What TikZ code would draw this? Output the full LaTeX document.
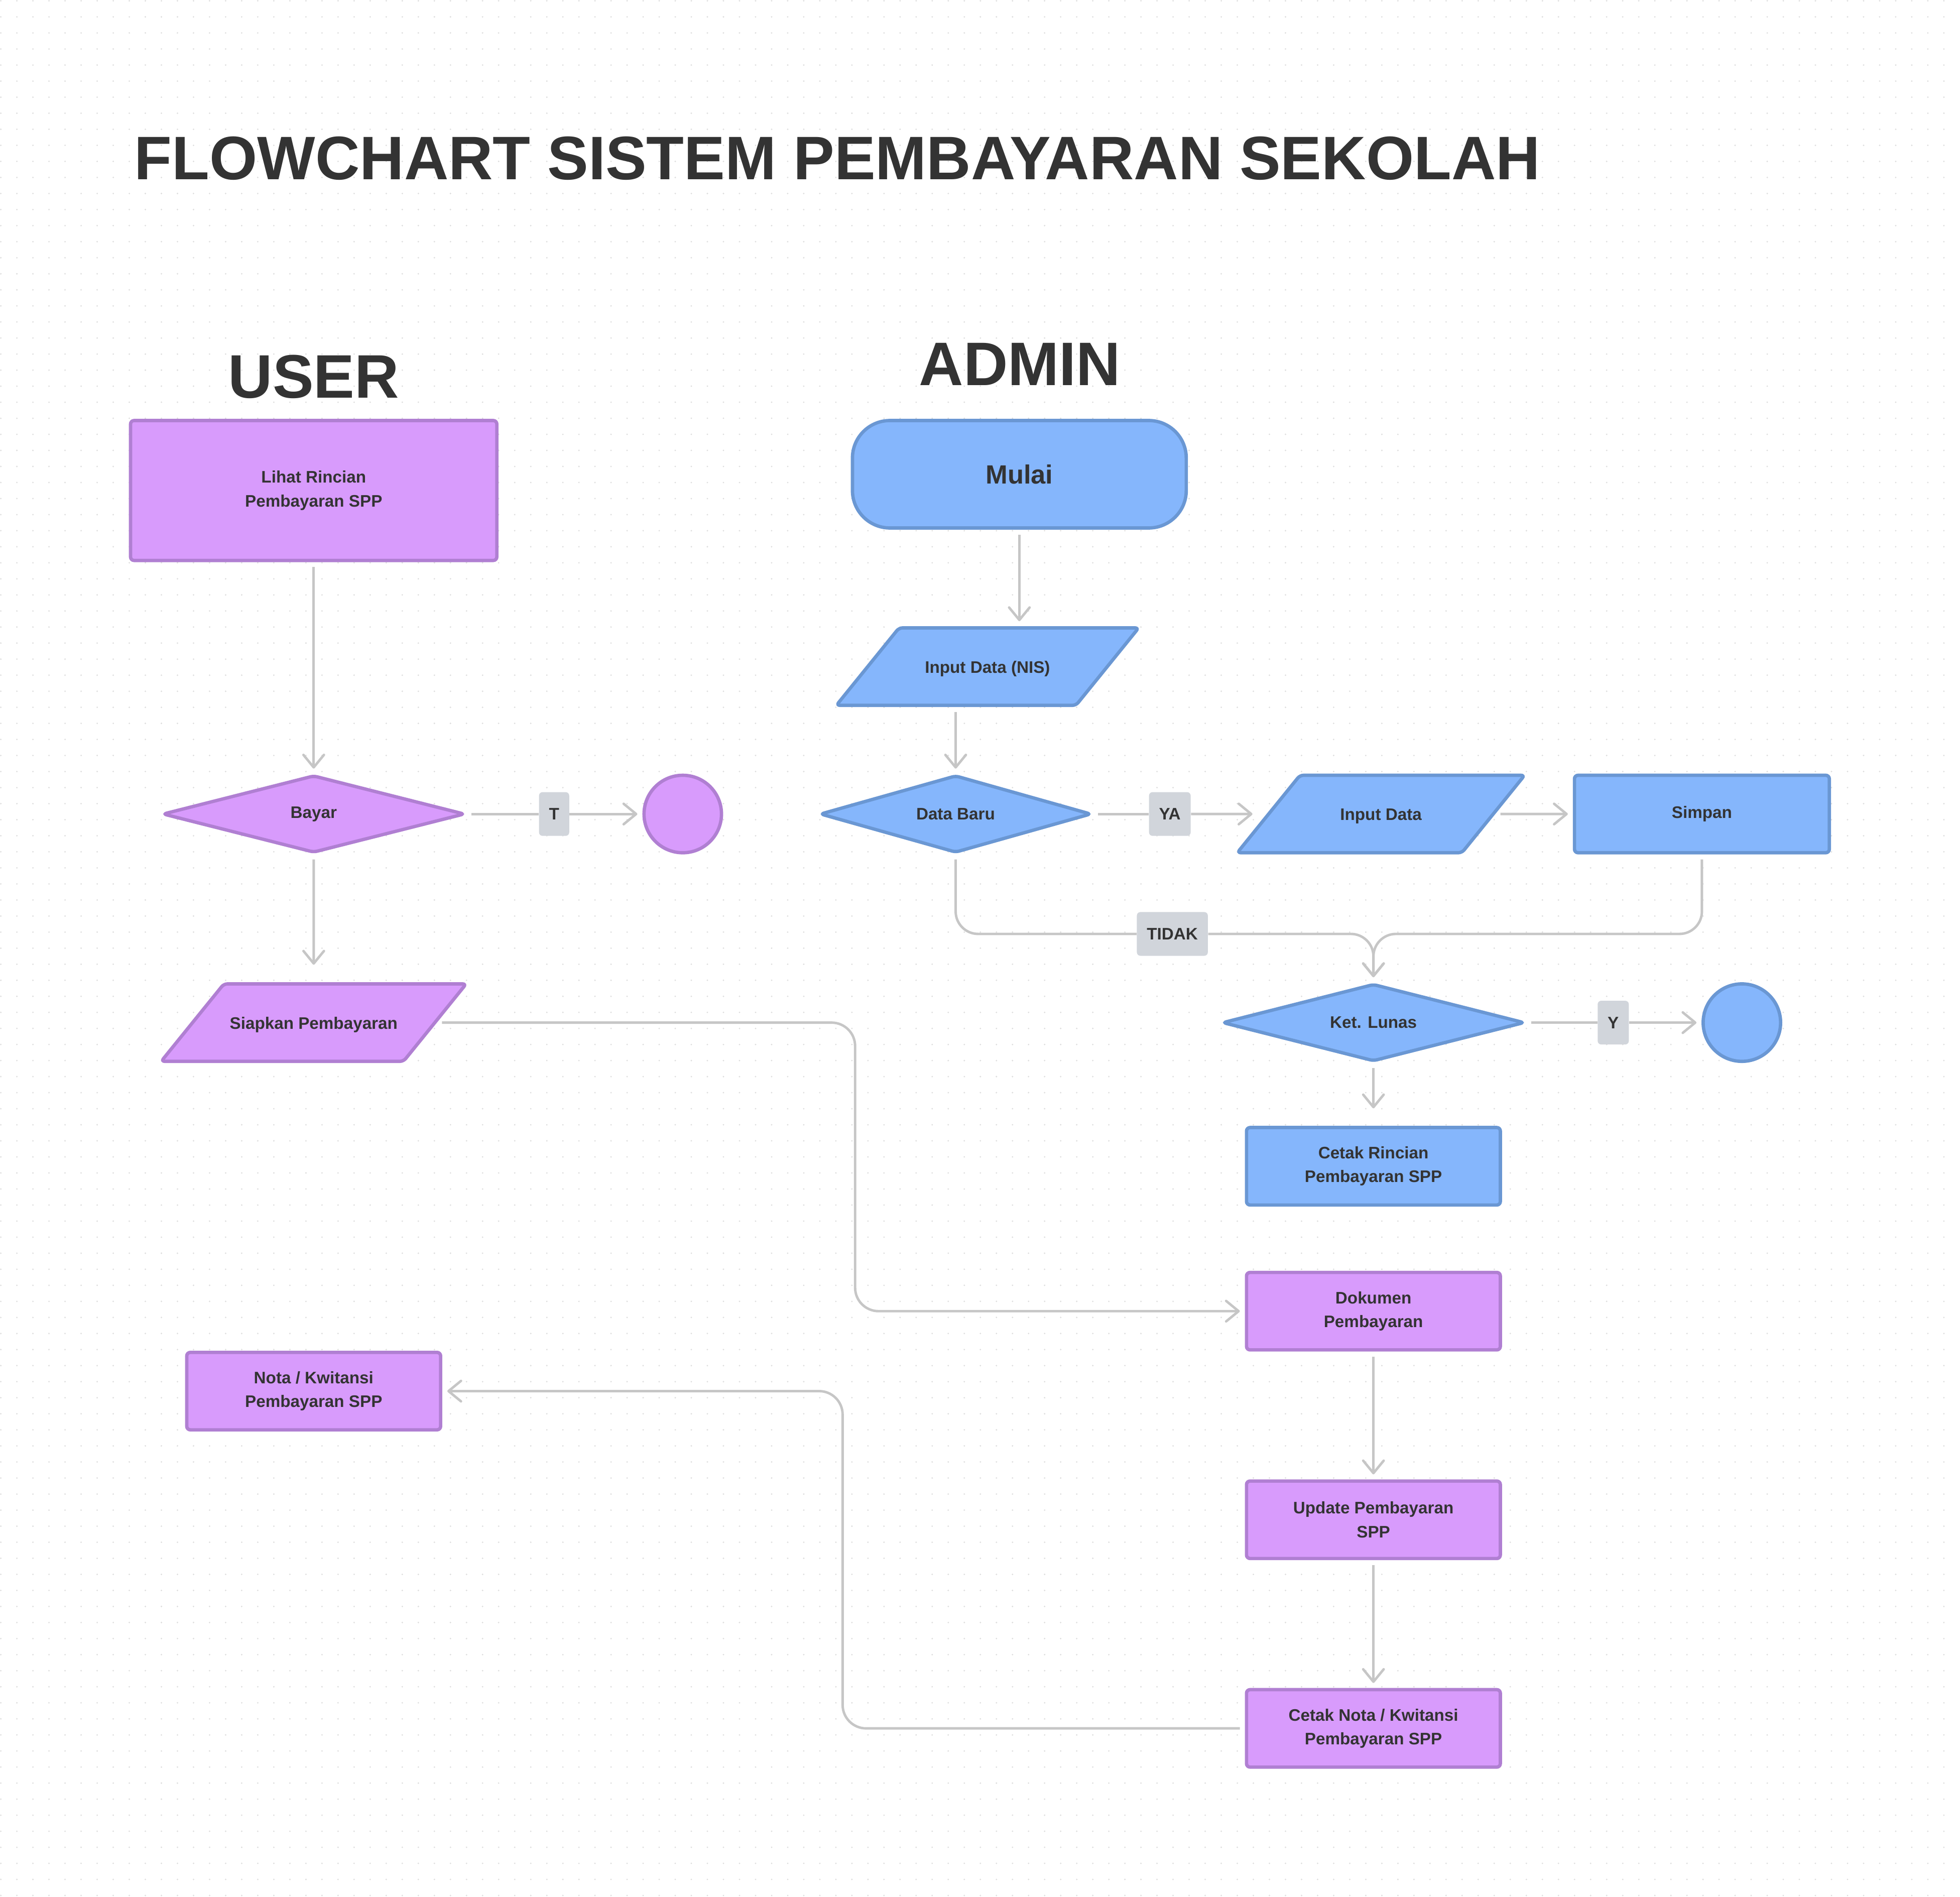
\documentclass[tikz,border=0pt]{standalone}
\usepackage{fontspec}
\setmainfont{Liberation Sans}
\usetikzlibrary{shapes.geometric,arrows.meta}

\definecolor{ungu}{HTML}{D89BFC}
\definecolor{unguline}{HTML}{B07FD2}
\definecolor{biru}{HTML}{85B6FC}
\definecolor{biruline}{HTML}{6A97D3}
\definecolor{garis}{HTML}{C6C6C6}
\definecolor{labelbg}{HTML}{D1D5DB}
\definecolor{teks}{HTML}{333333}
\definecolor{titik}{HTML}{DEDEDE}

\begin{document}
\begin{tikzpicture}
  [x=0.025cm, y=-0.025cm,
   every node/.style={text=teks, font=\fontsize{9.5}{13.5}\selectfont\bfseries},
   judul/.style={font=\fontsize{35}{40}\selectfont\bfseries},
   proses/.style={rectangle, draw, line width=1.9pt, rounded corners=2pt, align=center},
   keputusan/.style={diamond, draw, aspect=4, inner sep=0pt, line width=1.9pt,
     rounded corners=2pt, minimum height=1.55cm},
   io/.style={trapezium, draw, trapezium left angle=51, trapezium right angle=129,
     trapezium stretches body=true, line width=1.9pt, rounded corners=2pt,
     text height=0.45cm, text depth=0.2cm, inner ysep=0.45cm},
   akhir/.style={circle, draw, line width=1.9pt, minimum size=1.55cm},
   ket/.style={fill=labelbg, rounded corners=2pt, minimum height=0.875cm,
     inner xsep=0.2cm, inner ysep=0pt},
   user/.style={fill=ungu, draw=unguline},
   admin/.style={fill=biru, draw=biruline},
   conn/.style={draw=garis, line width=1.4pt, shorten <=0.1cm},
   arr/.style={conn, shorten >=0.1cm,
     -{Straight Barb[round, length=0.25cm, width=0.41cm]}},
   titikbaris/.style={titik, line width=0.033cm, line cap=round,
     dash pattern=on 0pt off 0.32135cm}]

  \fill[white] (0,0) rectangle (1568,1518);
  \foreach \r in {0,...,118}
    \draw[titikbaris] (0,\r*12.854) -- (1568,\r*12.854);
  \useasboundingbox (0,0) rectangle (1568,1518);

  \node[judul, anchor=base west] (judul) at (102,143) {FLOWCHART SISTEM PEMBAYARAN SEKOLAH};
  \node[judul, anchor=base] (huser) at (250.5,318) {USER};
  \node[judul, anchor=base] (hadmin) at (816,308) {ADMIN};

  % user
  \node[proses, user, minimum width=7.33cm, minimum height=2.8cm] (u1) at (250.5,392)
    {Lihat Rincian\\Pembayaran SPP};
  \node[keputusan, user, minimum width=6.05cm] (u2) at (250.5,651) {Bayar};
  \node[akhir, user] (u3) at (546,651) {};
  \node[io, user, minimum width=6.03cm] (u4) at (250.5,818) {Siapkan Pembayaran};
  \node[proses, user, minimum width=5.08cm, minimum height=1.55cm] (u5) at (250.5,1113)
    {Nota / Kwitansi\\Pembayaran SPP};

  % admin
  \node[proses, admin, rounded corners=0.75cm, minimum width=6.68cm, minimum height=2.15cm,
    font=\fontsize{15}{18}\selectfont\bfseries] (a1) at (815.5,379) {Mulai};
  \node[io, admin, minimum width=6.05cm] (a2) at (790,533) {Input Data (NIS)};
  \node[keputusan, admin, minimum width=5.43cm] (a3) at (764.5,651) {Data Baru};
  \node[io, admin, minimum width=5.75cm] (a4) at (1105,651) {Input Data};
  \node[proses, admin, minimum width=5.1cm, minimum height=1.55cm] (a5) at (1362,651) {Simpan};
  \node[keputusan, admin, minimum width=6.05cm] (a6) at (1099,818) {Ket. Lunas};
  \node[akhir, admin] (a7) at (1394,818) {};
  \node[proses, admin, minimum width=5.08cm, minimum height=1.55cm] (a8) at (1099,933)
    {Cetak Rincian\\Pembayaran SPP};
  \node[proses, user, minimum width=5.08cm, minimum height=1.55cm] (a9) at (1099,1049)
    {Dokumen\\Pembayaran};
  \node[proses, user, minimum width=5.08cm, minimum height=1.55cm] (a10) at (1099,1216)
    {Update Pembayaran\\SPP};
  \node[proses, user, minimum width=5.08cm, minimum height=1.55cm] (a11) at (1099,1383)
    {Cetak Nota / Kwitansi\\Pembayaran SPP};

  % label
  \node[ket] (lt) at (443,651) {T};
  \node[ket] (lya) at (936,651) {YA};
  \node[ket] (ltidak) at (938,747) {TIDAK};
  \node[ket] (ly) at (1291,818) {Y};

  % garis user
  \draw[arr] (u1) -- (u2);
  \draw[conn] (u2) -- (lt);
  \draw[arr, shorten <=0pt] (lt) -- (u3);
  \draw[arr, shorten >=0.35cm] (u2) -- (u4);
  \draw[arr, rounded corners=0.47cm] (u4.east) -- (684,818) |- (a9.west);

  % garis admin
  \draw[arr] (a1.south) -- (a1.south |- a2.north);
  \draw[arr] (a3.north |- a2.south) -- (a3.north);
  \draw[conn] (a3) -- (lya);
  \draw[arr, shorten <=0pt, shorten >=0.28cm] (lya) -- (a4);
  \draw[arr] (a4) -- (a5);
  \draw[conn, rounded corners=0.45cm] (a3.south) |- (ltidak.west);
  \draw[arr, shorten <=0pt, rounded corners=0.45cm] (ltidak.east) -- (ltidak -| a6) -- (a6.north);
  \draw[arr, rounded corners=0.45cm] (a5.south) |- (ltidak -| a6) -- (a6.north);
  \draw[conn] (a6) -- (ly);
  \draw[arr, shorten <=0pt] (ly) -- (a7);
  \draw[arr, shorten >=0.35cm] (a6) -- (a8);
  \draw[arr] (a9) -- (a10);
  \draw[arr] (a10) -- (a11);
  \draw[arr, rounded corners=0.47cm] (a11.west) -- (674,1383) |- (u5.east);
\end{tikzpicture}
\end{document}
